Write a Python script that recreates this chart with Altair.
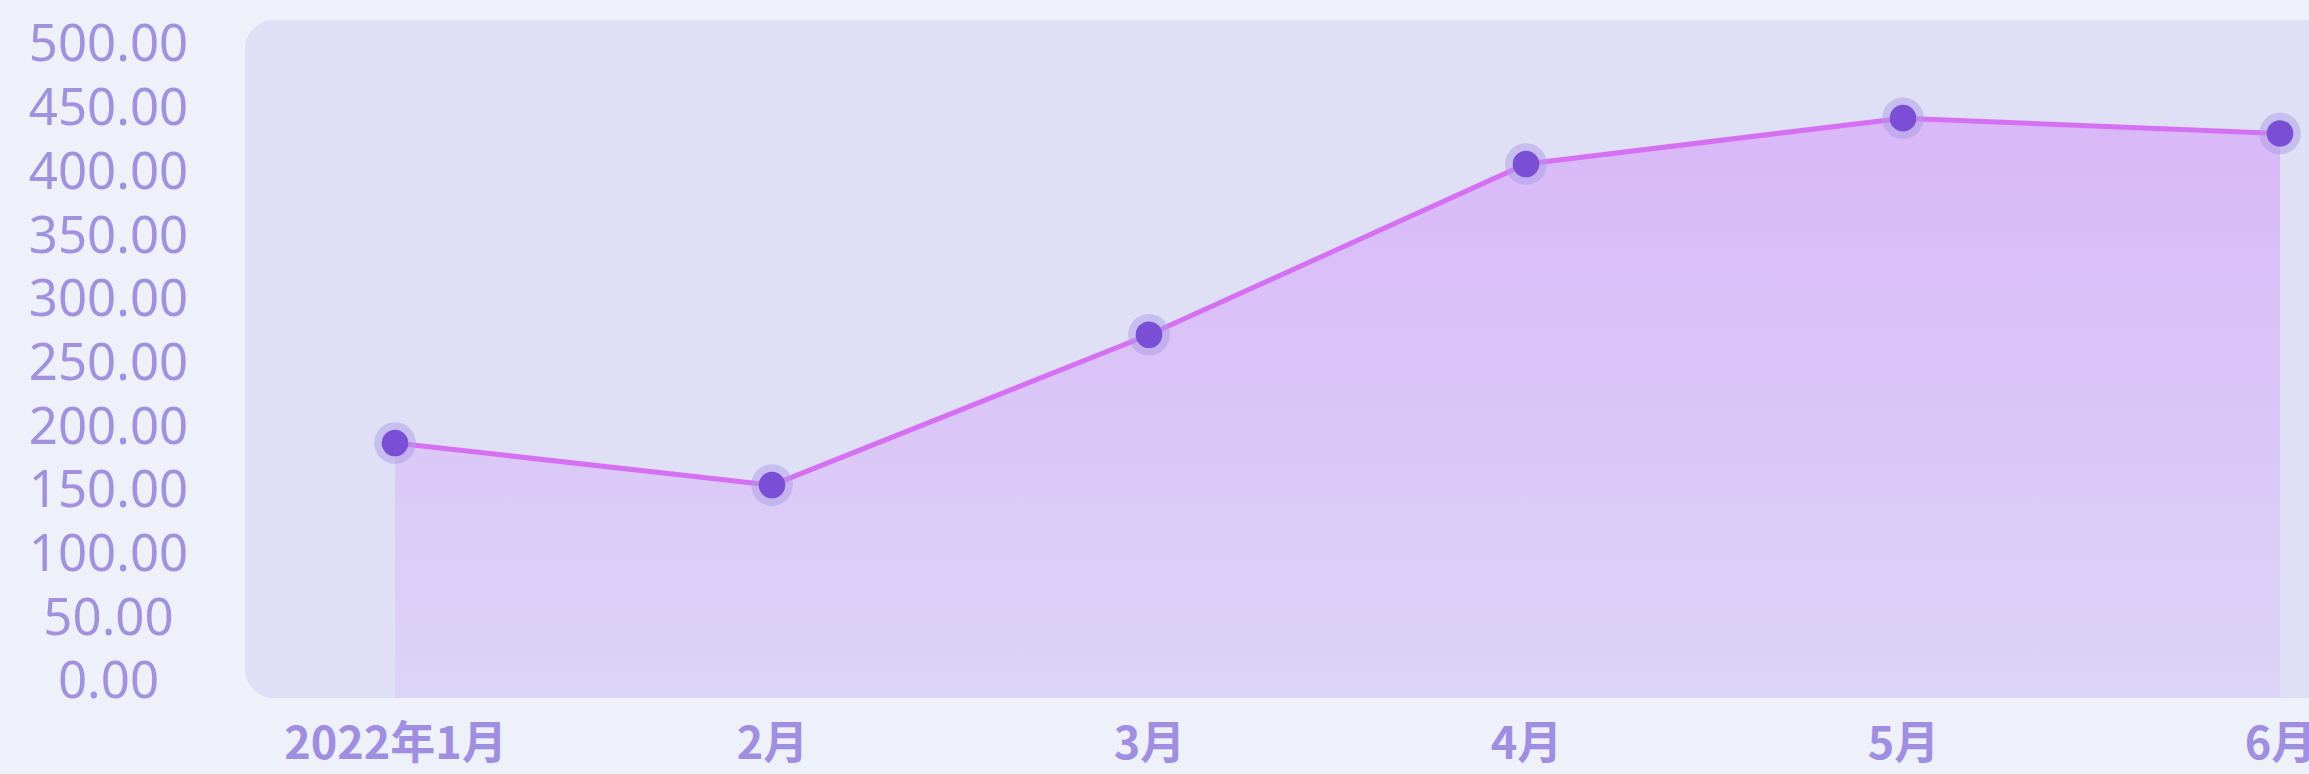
import altair as alt
import pandas as pd

# ---- data ----
months = ["2022年1月", "2月", "3月", "4月", "5月", "6月"]
values = [186, 153, 271, 405, 441, 429]
y_ticks = [0, 50, 100, 150, 200, 250, 300, 350, 400, 450, 500]

df = pd.DataFrame({"month": months, "value": values})

W, H = 2064, 678
Y_DOMAIN = [-14.13, 518.05]

x_enc = alt.X(
    "month:N",
    sort=months,
    scale=alt.Scale(type="point", padding=0.2374, align=0.838),
    axis=alt.Axis(
        title=None, domain=False, ticks=False, tickSize=0, grid=False,
        labelAngle=0, labelAlign="center", labelBaseline="alphabetic",
        labelPadding=60, labelFont="Noto Sans CJK SC",
        labelFontWeight="bold", labelFontSize=45, labelColor="#a08fe0",
        labelOverlap=False, labelLimit=600,
    ),
)
y_scale = alt.Scale(domain=Y_DOMAIN, nice=False, zero=False)
y_enc = alt.Y(
    "value:Q",
    scale=y_scale,
    axis=alt.Axis(
        title=None, values=y_ticks, format=".2f", domain=False, ticks=False,
        tickSize=0, grid=False, labelAlign="center", labelBaseline="middle",
        labelPadding=137, labelOffset=3, labelFont="Noto Sans",
        labelFontSize=51, labelColor="#a192de", labelOverlap=False,
        labelLimit=600,
    ),
)

base = alt.Chart(df)

panel = base.mark_rect(color="#dfe0f6", cornerRadius=30).encode(
    x=alt.value(0), x2=alt.value(W + 80), y=alt.value(0), y2=alt.value(H)
)

area = base.mark_area(
    color=alt.Gradient(
        gradient="linear",
        stops=[
            alt.GradientStop(color="#d9b8f8", offset=0),
            alt.GradientStop(color="#dcd4f6", offset=1),
        ],
        x1=0, x2=0, y1=0, y2=1,
    )
).encode(x=x_enc, y=y_enc, y2=alt.datum(Y_DOMAIN[0]))

line = base.mark_line(color="#d670f2", strokeWidth=5).encode(x=x_enc, y=y_enc)

halo = base.mark_point(
    filled=True, shape="circle", size=1735, color="#ac9ce6", opacity=0.5
).encode(x=x_enc, y=y_enc)

dots = base.mark_point(
    filled=True, shape="circle", size=707, color="#7a4fd6", opacity=1
).encode(x=x_enc, y=y_enc)

chart = (
    alt.layer(panel, area, line, halo, dots)
    .properties(
        width=W,
        height=H,
        autosize=alt.AutoSizeParams(type="none"),
        padding={"left": 245, "top": 20, "right": 0, "bottom": 76},
        background="#eef0fa",
    )
    .configure_view(strokeOpacity=0)
)

chart.save("out.html", embed_options={"renderer": "svg", "actions": False})
